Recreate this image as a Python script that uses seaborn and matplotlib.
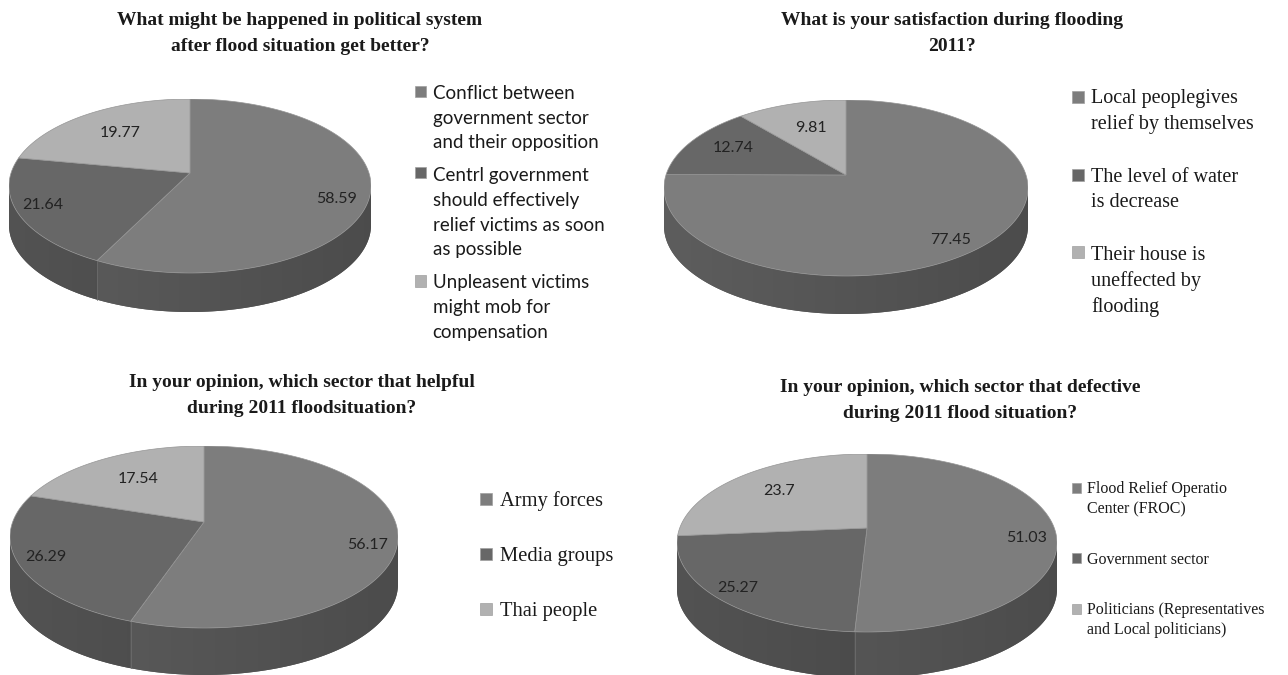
import numpy as np
import matplotlib
matplotlib.use("Agg")
import matplotlib.pyplot as plt
import seaborn as sns
from matplotlib.patches import Polygon, Rectangle, Patch
from matplotlib.legend_handler import HandlerPatch
from matplotlib.colors import to_rgb

# ---------------- data ----------------
titles = [
    "What might be happened in political system\nafter flood situation get better?",
    "What is your satisfaction during flooding\n2011?",
    "In your opinion, which sector that helpful\nduring 2011 floodsituation?",
    "In your opinion, which sector that defective\nduring 2011 flood situation?",
]
values_political = [58.59, 21.64, 19.77]
labels_political = [
    "Conflict between\ngovernment sector\nand their opposition",
    "Centrl government\nshould effectively\nrelief victims as soon\nas possible",
    "Unpleasent victims\nmight mob for\ncompensation",
]
values_satisfaction = [77.45, 12.74, 9.81]
labels_satisfaction = [
    "Local peoplegives\nrelief by themselves",
    "The level of water\nis decrease",
    "Their house is\nuneffected by\nflooding",
]
values_helpful = [56.17, 26.29, 17.54]
labels_helpful = ["Army forces", "Media groups", "Thai people"]
values_defective = [51.03, 25.27, 23.7]
labels_defective = [
    "Flood Relief Operatio\nCenter (FROC)",
    "Government sector",
    "Politicians (Representatives\nand Local politicians)",
]

# ---------------- style ----------------
sns.set_theme(style="white")
plt.rcParams['font.family'] = ['Liberation Serif', 'DejaVu Sans']
top_colors = sns.color_palette(["#7d7d7d", "#676767", "#b1b1b1"])
side_colors = sns.color_palette(["#585858", "#4e4e4e", "#878787"])

W, H = 1288, 675
fig = plt.figure(figsize=(W / 100, H / 100), dpi=100)
fig.patch.set_facecolor("white")

# layout in pixels: cx, cy, a, b, depth, hub offset; label radii per slice
layouts = [
    dict(cx=190, cy=186, a=181, b=87, depth=39, hub=13, lr=[0.84, 0.865, 0.66]),
    dict(cx=846, cy=188, a=182, b=88, depth=38, hub=13, lr=[0.88, 0.73, 0.64]),
    dict(cx=204, cy=537, a=194, b=91, depth=47, hub=15, lr=[0.86, 0.87, 0.65]),
    dict(cx=867, cy=543, a=190, b=89, depth=46, hub=15, lr=[0.84, 0.90, 0.68]),
]
title_pos = [(300, 33.5), (952, 33.5), (302, 395.5), (960, 400.5)]
legend_cfg = [
    dict(x=413, y=85, family=['Lato', 'DejaVu Sans'], size=13.5, ls=1.55, spacing=0.85, k=0.93),
    dict(x=1070, y=89, family=['Liberation Serif'], size=14.5, ls=1.4, spacing=1.7, k=1.05),
    dict(x=478, y=491, family=['Liberation Serif'], size=14.8, ls=1.1, spacing=1.7, k=1.05),
    dict(x=1070, y=481, family=['Liberation Serif'], size=11.5, ls=1.35, spacing=2.15, k=1.05),
]
label_font = ['Lato', 'DejaVu Sans']


class TopSquareHandler(HandlerPatch):
    def create_artists(self, legend, orig_handle, xdescent, ydescent,
                       width, height, fontsize, trans):
        nl = getattr(orig_handle, "nlines", 1)
        ls = getattr(orig_handle, "ls", 1.15)
        kk = getattr(orig_handle, "k", 1.0)
        shift = (nl - 1) / 2.0 * ls * fontsize * kk
        size = 0.6 * fontsize
        x0 = -xdescent + (width - size) / 2.0
        y0 = -ydescent + (height - size) / 2.0 + shift
        r = Rectangle((x0, y0), size, size, facecolor=orig_handle.get_facecolor(),
                      edgecolor="#a0a0a0", lw=0.5, transform=trans)
        return [r]


def runs(mask):
    out, start = [], None
    for i, m in enumerate(mask):
        if m and start is None:
            start = i
        if not m and start is not None:
            out.append((start, i))
            start = None
    if start is not None:
        out.append((start, len(mask)))
    return out


def pie3d(ax, values, t, dd, hub, lr):
    vals = np.asarray(values, dtype=float)
    fr = vals / vals.sum()
    starts = 90 - 360 * np.concatenate([[0], np.cumsum(fr)[:-1]])
    ends = starts - 360 * fr
    xs = np.linspace(-1, 1, 256)
    fac = 1.06 - 0.2 * (xs + 1) / 2
    # side walls (front half only)
    for i, (s, e) in enumerate(zip(starts, ends)):
        th = np.radians(np.linspace(s, e, 800))
        front = np.sin(th) < 0
        for (r0, r1) in runs(front):
            tt = th[r0:r1]
            top = list(zip(np.cos(tt), t * np.sin(tt)))
            bot = list(zip(np.cos(tt[::-1]), t * np.sin(tt[::-1]) - dd))
            poly = Polygon(top + bot, closed=True, facecolor=side_colors[i],
                           edgecolor="none")
            ax.add_patch(poly)
            base = np.array(to_rgb(side_colors[i]))
            img = np.clip(base[None, None, :] * fac[None, :, None], 0, 1)
            im = ax.imshow(img, extent=(-1, 1, -t - dd, t), aspect="auto",
                           interpolation="bilinear", zorder=1.5)
            im.set_clip_path(poly)
    # boundary lines on side
    for ang in starts:
        a = np.radians(ang)
        if np.sin(a) < 0:
            x, y = np.cos(a), t * np.sin(a)
            ax.plot([x, x], [y, y - dd], color="#6c6c6c", lw=0.6, zorder=2)
    # top face
    for i, (s, e) in enumerate(zip(starts, ends)):
        th = np.radians(np.linspace(s, e, 300))
        pts = [(0, hub)] + list(zip(np.cos(th), t * np.sin(th)))
        ax.add_patch(Polygon(pts, closed=True, facecolor=top_colors[i],
                             edgecolor="#959595", lw=0.5, zorder=3))
        mid = np.radians(0.5 * (s + e))
        r = lr[i]
        lx, ly = r * np.cos(mid), hub * 0.5 + r * t * np.sin(mid)
        ax.text(lx, ly, f"{values[i]:g}", ha="center", va="center",
                fontsize=11.5, color="#222222", family=label_font, zorder=4)


all_values = [values_political, values_satisfaction, values_helpful, values_defective]
all_labels = [labels_political, labels_satisfaction, labels_helpful, labels_defective]

for k in range(4):
    L = layouts[k]
    a, b, d = L["a"], L["b"], L["depth"]
    left = (L["cx"] - a) / W
    bottom = (H - (L["cy"] + b + d)) / H
    ax = fig.add_axes([left, bottom, 2 * a / W, (2 * b + d) / H])
    t, dd, hub = b / a, d / a, L["hub"] / a
    pie3d(ax, all_values[k], t, dd, hub, L["lr"])
    ax.set_xlim(-1, 1)
    ax.set_ylim(-t - dd, t)
    ax.set_aspect("auto")
    ax.set_axis_off()

    tx, ty = title_pos[k]
    fig.text(tx / W, 1 - ty / H, titles[k], ha="center", va="center",
             fontsize=14, fontweight="bold", family=['Liberation Serif'],
             linespacing=1.7, color="#1a1a1a")

    cfg = legend_cfg[k]
    handles = []
    for i, lab in enumerate(all_labels[k]):
        p = Patch(facecolor=top_colors[i])
        p.nlines = lab.count("\n") + 1
        p.ls = cfg["ls"]
        p.k = cfg["k"]
        handles.append(p)
    leg = fig.legend(handles, all_labels[k], loc="upper left",
                     bbox_to_anchor=(cfg["x"] / W, 1 - cfg["y"] / H),
                     bbox_transform=fig.transFigure, frameon=False,
                     prop=dict(family=cfg["family"], size=cfg["size"]),
                     handlelength=0.8, handleheight=0.8, handletextpad=0.25,
                     borderpad=0, borderaxespad=0, labelspacing=cfg["spacing"],
                     handler_map={Patch: TopSquareHandler()})
    for txt in leg.get_texts():
        txt.set_linespacing(cfg["ls"])
        txt.set_color("#1a1a1a")

fig.savefig("out.png", dpi=100, facecolor="white")
